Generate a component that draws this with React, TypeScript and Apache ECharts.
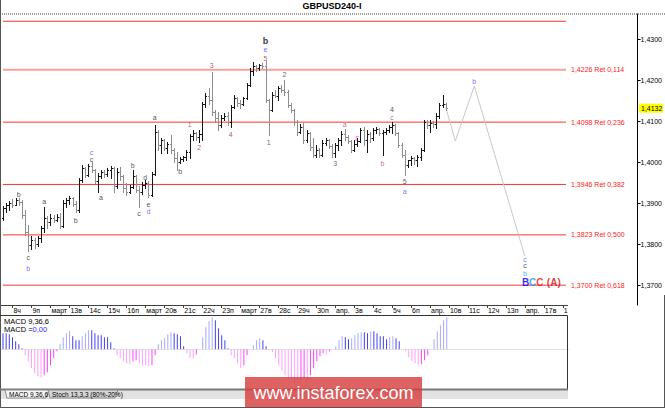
import React, { useEffect, useRef } from 'react';
import * as echarts from 'echarts';

// ---------- data (H4 bars, GBPUSD) ----------
const barOpen = [
  1.3864, 1.3888, 1.3896, 1.3901, 1.3896, 1.3908, 1.3903, 1.3871, 1.3830, 1.3798,
  1.3810, 1.3801, 1.3815, 1.3840, 1.3864, 1.3854, 1.3864, 1.3859, 1.3866, 1.3845,
  1.3901, 1.3908, 1.3913, 1.3898, 1.3884, 1.3957, 1.3986, 1.3969, 1.3991, 1.3981,
  1.3954, 1.3966, 1.3976, 1.3971, 1.3981, 1.3986, 1.3942, 1.3976, 1.3967, 1.3937,
  1.3927, 1.3940, 1.3966, 1.3932, 1.3927, 1.3945, 1.3950, 1.3920, 1.3971, 1.4074,
  1.4042, 1.4054, 1.4035, 1.4045, 1.4030, 1.4010, 1.4001, 1.4008, 1.4013, 1.4025,
  1.4064, 1.4071, 1.4062, 1.4069, 1.4142, 1.4162, 1.4152, 1.4123, 1.4108, 1.4091,
  1.4108, 1.4113, 1.4098, 1.4135, 1.4157, 1.4145, 1.4142, 1.4157, 1.4189, 1.4223,
  1.4235, 1.4230, 1.4237, 1.4235, 1.4152, 1.4128, 1.4164, 1.4162, 1.4181, 1.4176,
  1.4171, 1.4140, 1.4128, 1.4098, 1.4074, 1.4086, 1.4054, 1.4071, 1.4037, 1.4018,
  1.4030, 1.4018, 1.4047, 1.4054, 1.4040, 1.4023, 1.4042, 1.4054, 1.4069, 1.4062,
  1.4052, 1.4030, 1.4045, 1.4052, 1.4079, 1.4054, 1.4069, 1.4059, 1.4079, 1.4081,
  1.4071, 1.4074, 1.4079, 1.4086, 1.4091, 1.4071, 1.4042, 1.4018, 1.3993, 1.4006,
  1.4010, 1.4006, 1.4013, 1.4030, 1.4098, 1.4091, 1.4096, 1.4093, 1.4113, 1.4140,
  1.4142,
];
const barHigh = [
  1.3893, 1.3901, 1.3906, 1.3910, 1.3913, 1.3913, 1.3908, 1.3884, 1.3847, 1.3820,
  1.3815, 1.3820, 1.3844, 1.3891, 1.3869, 1.3874, 1.3872, 1.3874, 1.3876, 1.3908,
  1.3913, 1.3918, 1.3916, 1.3906, 1.3962, 1.3993, 1.3988, 1.3996, 1.4000, 1.3983,
  1.3974, 1.3981, 1.3981, 1.3986, 1.3991, 1.3988, 1.3986, 1.3988, 1.3969, 1.3950,
  1.3945, 1.3981, 1.3968, 1.3942, 1.3952, 1.3957, 1.3954, 1.3976, 1.4091, 1.4079,
  1.4059, 1.4056, 1.4050, 1.4067, 1.4035, 1.4025, 1.4013, 1.4015, 1.4030, 1.4069,
  1.4079, 1.4074, 1.4079, 1.4147, 1.4169, 1.4181, 1.4220, 1.4128, 1.4123, 1.4115,
  1.4120, 1.4123, 1.4140, 1.4164, 1.4159, 1.4152, 1.4159, 1.4193, 1.4230, 1.4245,
  1.4237, 1.4240, 1.4242, 1.4247, 1.4154, 1.4171, 1.4176, 1.4186, 1.4188, 1.4200,
  1.4176, 1.4145, 1.4130, 1.4103, 1.4093, 1.4096, 1.4079, 1.4074, 1.4059, 1.4042,
  1.4035, 1.4054, 1.4059, 1.4056, 1.4045, 1.4047, 1.4059, 1.4076, 1.4081, 1.4067,
  1.4054, 1.4054, 1.4059, 1.4084, 1.4086, 1.4079, 1.4074, 1.4084, 1.4086, 1.4084,
  1.4079, 1.4084, 1.4091, 1.4098, 1.4093, 1.4074, 1.4047, 1.4030, 1.4006, 1.4015,
  1.4013, 1.4018, 1.4035, 1.4103, 1.4103, 1.4103, 1.4101, 1.4120, 1.4145, 1.4164,
  1.4145,
];
const barLow = [
  1.3859, 1.3879, 1.3884, 1.3891, 1.3896, 1.3896, 1.3864, 1.3823, 1.3783, 1.3788,
  1.3791, 1.3796, 1.3805, 1.3830, 1.3840, 1.3847, 1.3854, 1.3857, 1.3840, 1.3842,
  1.3891, 1.3898, 1.3893, 1.3879, 1.3879, 1.3952, 1.3964, 1.3966, 1.3976, 1.3949,
  1.3927, 1.3962, 1.3964, 1.3966, 1.3962, 1.3927, 1.3937, 1.3957, 1.3927, 1.3920,
  1.3925, 1.3937, 1.3927, 1.3891, 1.3923, 1.3937, 1.3915, 1.3918, 1.3968, 1.4030,
  1.4023, 1.4030, 1.4023, 1.4023, 1.4001, 1.3981, 1.3998, 1.4003, 1.4006, 1.4010,
  1.4054, 1.4054, 1.4050, 1.4054, 1.4135, 1.4142, 1.4115, 1.4098, 1.4079, 1.4086,
  1.4103, 1.4091, 1.4086, 1.4132, 1.4137, 1.4132, 1.4140, 1.4155, 1.4186, 1.4213,
  1.4223, 1.4225, 1.4230, 1.4147, 1.4067, 1.4125, 1.4159, 1.4152, 1.4171, 1.4164,
  1.4135, 1.4123, 1.4091, 1.4067, 1.4072, 1.4047, 1.4050, 1.4030, 1.4013, 1.4013,
  1.4013, 1.4015, 1.4042, 1.4035, 1.4013, 1.4013, 1.4030, 1.4042, 1.4054, 1.4047,
  1.4025, 1.4028, 1.4040, 1.4050, 1.4042, 1.4025, 1.4050, 1.4054, 1.4071, 1.4067,
  1.4018, 1.4069, 1.4074, 1.4071, 1.4067, 1.4037, 1.4013, 1.3969, 1.3988, 1.3993,
  1.3996, 1.3991, 1.4006, 1.4028, 1.4084, 1.4074, 1.4086, 1.4084, 1.4108, 1.4135,
  1.4128,
];
const barClose = [
  1.3888, 1.3896, 1.3901, 1.3896, 1.3908, 1.3903, 1.3871, 1.3830, 1.3798, 1.3810,
  1.3801, 1.3815, 1.3840, 1.3864, 1.3854, 1.3864, 1.3859, 1.3866, 1.3845, 1.3901,
  1.3908, 1.3913, 1.3898, 1.3884, 1.3957, 1.3986, 1.3969, 1.3991, 1.3981, 1.3954,
  1.3966, 1.3976, 1.3971, 1.3981, 1.3986, 1.3942, 1.3976, 1.3967, 1.3937, 1.3927,
  1.3940, 1.3966, 1.3932, 1.3927, 1.3945, 1.3950, 1.3920, 1.3971, 1.4074, 1.4042,
  1.4054, 1.4035, 1.4045, 1.4030, 1.4010, 1.4001, 1.4008, 1.4013, 1.4025, 1.4064,
  1.4071, 1.4062, 1.4069, 1.4142, 1.4162, 1.4152, 1.4123, 1.4108, 1.4091, 1.4108,
  1.4113, 1.4098, 1.4135, 1.4157, 1.4145, 1.4142, 1.4157, 1.4189, 1.4223, 1.4235,
  1.4230, 1.4237, 1.4235, 1.4152, 1.4128, 1.4164, 1.4162, 1.4181, 1.4176, 1.4171,
  1.4140, 1.4128, 1.4098, 1.4074, 1.4086, 1.4054, 1.4071, 1.4037, 1.4018, 1.4030,
  1.4018, 1.4047, 1.4054, 1.4040, 1.4023, 1.4042, 1.4054, 1.4069, 1.4062, 1.4052,
  1.4030, 1.4045, 1.4052, 1.4079, 1.4054, 1.4069, 1.4059, 1.4079, 1.4081, 1.4071,
  1.4074, 1.4079, 1.4086, 1.4091, 1.4071, 1.4042, 1.4018, 1.3993, 1.4006, 1.4010,
  1.4006, 1.4013, 1.4030, 1.4098, 1.4091, 1.4096, 1.4093, 1.4113, 1.4140, 1.4142,
  1.4132,
];

const macdValues = [
  0.0016, 0.0016, 0.0015, 0.0012, 0.0008, 0.0005, 0.0001, -0.0006, -0.0012, -0.0019,
  -0.0024, -0.0027, -0.0028, -0.0026, -0.0023, -0.0016, -0.0009, -0.0002, 0.0005, 0.0012,
  0.0016, 0.0018, 0.0013, 0.0009, 0.0009, 0.0013, 0.0016, 0.0019, 0.0019, 0.0016,
  0.0014, 0.0014, 0.0012, 0.0012, 0.0007, 0.0001, -0.0006, -0.0009, -0.0012, -0.0014,
  -0.0015, -0.0012, -0.0011, -0.0014, -0.0016, -0.0016, -0.0017, -0.0016, -0.0006, 0.0005,
  0.0009, 0.0011, 0.0015, 0.0017, 0.0016, 0.0015, 0.0013, 0.0003, -0.0004, -0.0009,
  -0.0009, -0.0005, 0.0000, 0.0012, 0.0022, 0.0028, 0.0032, 0.0029, 0.0021, 0.0014,
  0.0009, 0.0001, -0.0006, -0.0009, -0.0014, -0.0019, -0.0016, -0.0006, 0.0000, 0.0004,
  0.0009, 0.0011, 0.0009, 0.0003, -0.0001, -0.0003, -0.0009, -0.0016, -0.0021, -0.0026,
  -0.0029, -0.0030, -0.0034, -0.0034, -0.0031, -0.0029, -0.0031, -0.0026, -0.0019, -0.0012,
  -0.0007, -0.0004, -0.0005, -0.0002, 0.0000, 0.0003, 0.0009, 0.0013, 0.0012, 0.0010,
  0.0011, 0.0014, 0.0016, 0.0017, 0.0017, 0.0016, 0.0018, 0.0018, 0.0016, 0.0013,
  0.0013, 0.0010, 0.0012, 0.0013, 0.0011, 0.0008, 0.0000, -0.0002, -0.0008, -0.0012,
  -0.0014, -0.0016, -0.0015, -0.0011, -0.0006, 0.0000, 0.0010, 0.0018, 0.0024, 0.0029,
  0.0032,
];

const dayLabels = [
  '8ч', '9п', 'март', '13в', '14с', '15ч', '16п', 'март', '20в', '21с', '22ч', '23п', 'март', '27в', '28с',
  '29ч', '30п', 'апр.', '3в', '4с', '5ч', '6п', 'апр.', '10в', '11с', '12ч', '13п', 'апр.', '17в', '1',
];
const firstLabelSlot = 3;
const barsPerDay = 6;
const slotCount = 179;

const priceTicks = [1.37, 1.38, 1.39, 1.40, 1.41, 1.42, 1.43];
const priceMin = 1.3652;
const priceMax = 1.43617;
const macdMin = -0.00397;
const macdMax = 0.00333;

const levelValues = [1.4344, 1.4226, 1.4098, 1.3946, 1.3823, 1.3700];
const levelTexts = ['', '1,4226 Ret 0,114', '1,4098 Ret 0,236', '1,3946 Ret 0,382', '1,3823 Ret 0,500', '1,3700 Ret 0,618'];

const projectionSlots = [140, 143, 149, 165];
const projectionValues = [1.4134, 1.4052, 1.4186, 1.3771];

const waveSlots = [5, 8, 8, 13, 23, 28, 28, 31, 41, 43, 45, 46, 46, 48, 56, 59, 62, 66, 72, 83, 83, 83, 84, 89, 105, 108, 112, 120, 123, 123, 127, 127, 149, 165, 165, 165];
const waveValues = [1.3922, 1.3769, 1.3742, 1.3905, 1.3859, 1.4025, 1.4008, 1.3913, 1.3993, 1.3876, 1.3962, 1.3898, 1.3879, 1.4109, 1.3977, 1.4091, 1.4037, 1.4237, 1.4069, 1.4254, 1.4276, 1.4296, 1.4049, 1.4213, 1.3998, 1.4091, 1.4057, 1.3998, 1.4130, 1.4110, 1.3952, 1.3930, 1.4196, 1.3764, 1.3749, 1.3730];
const waveTexts = ['b', 'c', 'b', 'a', 'b', 'c', 'c', 'a', 'b', 'c', 'd', 'e', 'd', 'a', 'b', '1', '2', '3', '4', '5', 'e', 'b', '1', '2', '3', 'a', 'Г', 'b', '4', 'c', '5', 'a', 'b', 'c', 'c', 'b'];
const waveTones = ['k', 'k', 'u', 'k', 'k', 'u', 'k', 'k', 'k', 'k', 'k', 'k', 'u', 'k', 'k', 'r', 'r', 'r', 'r', 'r', 'u', 'K', 'd', 'd', 'd', 'm', 'g', 'm', 'k', 'm', 'd', 'u', 'u', 'u', 'k', 'c'];

const targetSlot = 165;
const targetValue = 1.3708;

const lastPrice = 1.4132;

// ---------- styling ----------
const FONT = 'Liberation Sans';
const toneColor: Record<string, string> = {
  k: '#1a1a1a', K: '#000000', u: '#4848ff', r: '#a83232', d: '#3a3a48', m: '#b05050', g: '#ff00ff', c: '#1e90ff',
};

function slotLabel(idx: number): string {
  const k = idx - firstLabelSlot;
  if (k < 0 || k % barsPerDay !== 0) return '';
  return dayLabels[k / barsPerDay] ?? '';
}

export default function App() {
  const ref = useRef<HTMLDivElement>(null);

  useEffect(() => {
    if (!ref.current) return;
    const chart = echarts.init(ref.current, undefined, { renderer: 'svg' });

    const slots = Array.from({ length: slotCount }, (_, i) => String(i));
    const isLabelSlot = (i: number) => i >= firstLabelSlot && (i - firstLabelSlot) % barsPerDay === 0;

    const ohlc = barOpen.map((o, i) => [i, o, barHigh[i], barLow[i], barClose[i]]);

    const levelSeries = levelValues.map((v, k) => ({
      type: 'line',
      xAxisIndex: 0,
      yAxisIndex: 0,
      data: [[0, v], [slotCount - 1, v]],
      symbol: 'none',
      silent: true,
      z: 1,
      lineStyle: {
        color: k === 1 ? '#f6a0a0' : k === 5 ? '#f57a7a' : '#ff3030',
        width: k === 1 ? 2 : k === 5 ? 1.5 : 1,
      },
      endLabel: {
        show: levelTexts[k] !== '',
        formatter: () => levelTexts[k],
        color: '#ff2020',
        fontSize: 7,
        fontFamily: FONT,
        distance: 5,
      },
    }));

    const macdColor = (i: number) => {
      const v = macdValues[i];
      const prev = i > 0 ? macdValues[i - 1] : v;
      if (v >= 0) return v <= prev ? '#4040ff' : '#a8a8ff';
      return v <= prev ? '#ffa0ff' : '#ff40ff';
    };

    const option: any = {
      animation: false,
      backgroundColor: '#ffffff',
      textStyle: { fontFamily: FONT },
      grid: [
        { left: 1.4, top: 14, width: 567.4, height: 291 },
        { left: 1.4, top: 316, width: 567.4, height: 73 },
      ],
      xAxis: [
        {
          type: 'category',
          gridIndex: 0,
          data: slots,
          boundaryGap: true,
          axisLine: { show: true, lineStyle: { color: '#404040', width: 1 } },
          axisTick: {
            show: true,
            alignWithLabel: true,
            interval: (i: number) => isLabelSlot(i),
            length: 3,
            lineStyle: { color: '#404040' },
          },
          axisLabel: {
            show: true,
            interval: (i: number) => isLabelSlot(i),
            formatter: (_v: string, i: number) => slotLabel(i),
            align: 'left',
            padding: [0, 0, 0, 1],
            margin: 2,
            fontSize: 7,
            color: '#000000',
            fontFamily: FONT,
          },
          splitLine: { show: false },
        },
        {
          type: 'category',
          gridIndex: 1,
          data: slots,
          boundaryGap: true,
          show: false,
        },
      ],
      yAxis: [
        {
          type: 'value',
          gridIndex: 0,
          min: priceMin,
          max: priceMax,
          position: 'right',
          offset: 70,
          axisLine: { show: true, lineStyle: { color: '#000000', width: 1 } },
          axisTick: { show: true, customValues: priceTicks, length: 3, lineStyle: { color: '#000000' } },
          axisLabel: {
            show: true,
            customValues: priceTicks,
            formatter: (v: number) => v.toFixed(4).replace('.', ','),
            fontSize: 7,
            color: '#000000',
            margin: 3,
            fontFamily: FONT,
          },
          splitLine: { show: false },
        },
        {
          type: 'value',
          gridIndex: 1,
          min: macdMin,
          max: macdMax,
          show: false,
          splitLine: { show: false },
        },
      ],
      series: [
        ...levelSeries,
        {
          type: 'line',
          xAxisIndex: 0,
          yAxisIndex: 0,
          data: projectionSlots.map((s, k) => [s, projectionValues[k]]),
          symbol: 'none',
          silent: true,
          z: 2,
          lineStyle: { color: '#c8c8cc', width: 1 },
        },
        {
          type: 'custom',
          xAxisIndex: 0,
          yAxisIndex: 0,
          data: ohlc,
          encode: { x: 0, y: [1, 2, 3, 4] },
          z: 3,
          silent: true,
          renderItem: (_p: any, api: any) => {
            const i = api.value(0);
            const o = api.coord([i, api.value(1)]);
            const h = api.coord([i, api.value(2)]);
            const l = api.coord([i, api.value(3)]);
            const c = api.coord([i, api.value(4)]);
            const x = Math.round(h[0]) + 0.5;
            const up = api.value(4) >= api.value(1);
            const style = { stroke: up ? '#161616' : '#8e8e8e', lineWidth: 1 };
            const oy = Math.round(o[1]) + 0.5;
            const cy = Math.round(c[1]) + 0.5;
            return {
              type: 'group',
              children: [
                { type: 'line', shape: { x1: x, y1: Math.round(h[1]), x2: x, y2: Math.round(l[1]) + 1 }, style },
                { type: 'line', shape: { x1: x - 1.5, y1: oy, x2: x, y2: oy }, style },
                { type: 'line', shape: { x1: x, y1: cy, x2: x + 1.5, y2: cy }, style },
              ],
            };
          },
        },
        {
          type: 'scatter',
          xAxisIndex: 0,
          yAxisIndex: 0,
          symbolSize: 0,
          silent: true,
          z: 5,
          data: waveSlots.map((s, k) => ({
            value: [s, waveValues[k]],
            label: {
              show: true,
              position: 'inside',
              formatter: waveTexts[k],
              color: toneColor[waveTones[k]],
              fontSize: waveTones[k] === 'K' ? 9 : 7,
              fontWeight: waveTones[k] === 'K' ? 'bold' : 'normal',
              fontFamily: FONT,
            },
          })),
        },
        {
          type: 'scatter',
          xAxisIndex: 0,
          yAxisIndex: 0,
          symbolSize: 0,
          silent: true,
          z: 5,
          data: [{
            value: [targetSlot, targetValue],
            label: {
              show: true,
              position: 'right',
              distance: 0,
              offset: [-3, 0],
              formatter: '{b|B}{c|C}{r|C} {a|(A)}',
              rich: {
                b: { color: '#0000ee', fontWeight: 'bold', fontSize: 10, fontFamily: FONT },
                c: { color: '#1e90ff', fontWeight: 'bold', fontSize: 10, fontFamily: FONT },
                r: { color: '#ee1111', fontWeight: 'bold', fontSize: 10, fontFamily: FONT },
                a: { color: '#cc1111', fontWeight: 'bold', fontSize: 10, fontFamily: FONT },
              },
            },
          }],
        },
        {
          type: 'bar',
          xAxisIndex: 1,
          yAxisIndex: 1,
          barWidth: 1,
          silent: true,
          data: macdValues.map((v, i) => ({ value: v, itemStyle: { color: macdColor(i) } })),
          markLine: {
            silent: true,
            symbol: 'none',
            label: { show: false },
            lineStyle: { color: '#c4c4c4', type: 'dotted', width: 1 },
            data: [{ yAxis: 0 }],
          },
        },
      ],
      graphic: {
        elements: [
          { id: 'title', type: 'text', x: 332, y: 6, z: 10, style: { text: 'GBPUSD240-I', font: `bold 9px "${FONT}"`, fill: '#000', textAlign: 'center', textVerticalAlign: 'middle' } },
          { id: 'topDots', type: 'line', z: 10, shape: { x1: 0, y1: 14, x2: 665, y2: 14 }, style: { stroke: '#a0a0a0', lineWidth: 2, lineDash: [1, 1] } },
          { id: 'leftBorder', type: 'line', z: 10, shape: { x1: 0.5, y1: 0, x2: 0.5, y2: 408 }, style: { stroke: '#555', lineWidth: 1 } },
          { id: 'bottomBorder', type: 'line', z: 10, shape: { x1: 0, y1: 407.5, x2: 665, y2: 407.5 }, style: { stroke: '#555', lineWidth: 1 } },
          { id: 'rightBorder', type: 'line', z: 10, shape: { x1: 664.5, y1: 295, x2: 664.5, y2: 408 }, style: { stroke: '#555', lineWidth: 1 } },
          { id: 'macdTop', type: 'line', z: 10, shape: { x1: 0, y1: 315.5, x2: 567.5, y2: 315.5 }, style: { stroke: '#333', lineWidth: 1 } },
          { id: 'macdRight', type: 'line', z: 10, shape: { x1: 567.5, y1: 315.5, x2: 567.5, y2: 389 }, style: { stroke: '#333', lineWidth: 1 } },
          { id: 'tabBar', type: 'rect', z: 9, shape: { x: 1, y: 389, width: 567, height: 10 }, style: { fill: '#e2e2e2' } },
          { id: 'macdBottom', type: 'line', z: 10, shape: { x1: 0, y1: 389.5, x2: 568, y2: 389.5 }, style: { stroke: '#7a7a7a', lineWidth: 2 } },
          { id: 'tab1', type: 'polygon', z: 10, shape: { points: [[5, 390], [7, 398], [46, 398], [49, 390]] }, style: { fill: '#f6f6f6', stroke: '#8a8a8a', lineWidth: 1 } },
          { id: 'tab2', type: 'polygon', z: 10, shape: { points: [[48, 390], [50, 398], [115, 398], [118, 390]] }, style: { fill: '#d6d6d6', stroke: '#8a8a8a', lineWidth: 1 } },
          { id: 'tab1t', type: 'text', z: 11, x: 9, y: 394.5, style: { text: 'MACD 9,36,6', font: `6.5px "${FONT}"`, fill: '#000', textVerticalAlign: 'middle' } },
          { id: 'tab2t', type: 'text', z: 11, x: 52, y: 394.5, style: { text: 'Stoch 13,3,3 (80%-20%)', font: `6.5px "${FONT}"`, fill: '#000', textVerticalAlign: 'middle' } },
          { id: 'macdName', type: 'text', z: 11, x: 4, y: 321, style: { text: 'MACD 9,36,6', font: `7.5px "${FONT}"`, fill: '#000', textVerticalAlign: 'middle' } },
          {
            id: 'macdVal', type: 'text', z: 11, x: 4, y: 329.5,
            style: {
              text: '{k|MACD =}{v|0,00}', textVerticalAlign: 'middle',
              rich: { k: { fill: '#000', font: `7.5px "${FONT}"` }, v: { fill: '#2f2fff', font: `7.5px "${FONT}"` } },
            },
          },
          { id: 'wmRect', type: 'rect', z: 20, shape: { x: 245, y: 377, width: 177, height: 30 }, style: { fill: 'rgba(216,64,64,0.82)' } },
          { id: 'wmText', type: 'text', z: 21, x: 333.5, y: 392.5, style: { text: 'www.instaforex.com', font: `18px "${FONT}"`, fill: '#ffffff', textAlign: 'center', textVerticalAlign: 'middle' } },
        ],
      },
    };

    chart.setOption(option);

    const tagY = chart.convertToPixel({ yAxisIndex: 0 } as any, lastPrice) as number;
    if (typeof tagY === 'number' && isFinite(tagY)) {
      chart.setOption({
        graphic: {
          elements: [
            { id: 'tagRect', type: 'rect', z: 12, shape: { x: 639, y: tagY - 4.5, width: 24, height: 9 }, style: { fill: '#ffff00' } },
            { id: 'tagText', type: 'text', z: 13, x: 641, y: tagY, style: { text: lastPrice.toFixed(4).replace('.', ','), font: `7px "${FONT}"`, fill: '#000', textVerticalAlign: 'middle' } },
          ],
        },
      });
    }

    return () => chart.dispose();
  }, []);

  return (
    <div
      ref={ref}
      style={{ position: 'fixed', left: 0, top: 0, width: 665, height: 408, background: '#fff' }}
    />
  );
}
